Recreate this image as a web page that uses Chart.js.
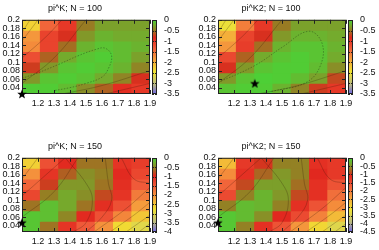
<!DOCTYPE html>
<html>
<head>
<meta charset="utf-8">
<script src="https://cdn.jsdelivr.net/npm/chart.js@4.4.1/dist/chart.umd.min.js"></script>
<style>
  body { margin: 0; background: #fff; width: 379px; height: 250px; position: relative; overflow: hidden; }
  canvas { position: absolute; }
</style>
</head>
<body>
<canvas id="heat1" width="165" height="112" style="left:0px;top:0px"></canvas>
<canvas id="bar1" width="40" height="112" style="left:150px;top:0px"></canvas>
<canvas id="heat2" width="165" height="112" style="left:196px;top:0px"></canvas>
<canvas id="bar2" width="40" height="112" style="left:346px;top:0px"></canvas>
<canvas id="heat3" width="165" height="112" style="left:0px;top:138px"></canvas>
<canvas id="bar3" width="40" height="112" style="left:150px;top:138px"></canvas>
<canvas id="heat4" width="165" height="112" style="left:196px;top:138px"></canvas>
<canvas id="bar4" width="40" height="112" style="left:346px;top:138px"></canvas>
<script>
// cell centres along x (7 columns between 1.1 and 1.9)
const xCenters = [1.15714, 1.27143, 1.38571, 1.5, 1.61429, 1.72857, 1.84286];
// row edges along y, top row first
const rowHigh = [0.2, 0.175, 0.15, 0.125, 0.1, 0.075, 0.05];
const rowLow = [0.175, 0.15, 0.125, 0.1, 0.075, 0.05, 0.025];
const xTicks = [1.2, 1.3, 1.4, 1.5, 1.6, 1.7, 1.8, 1.9];
const yTicks = [0.04, 0.06, 0.08, 0.1, 0.12, 0.14, 0.16, 0.18, 0.2];

// cell values, rows from top to bottom
const piK100 = [
  [-2.3, -1.4, -1.0, -0.5, -0.3, -0.3, -0.3],
  [-1.8, -1.1, -0.8, -0.35, -0.2, -0.25, -0.25],
  [-1.7, -1.1, -0.55, -0.2, -0.1, -0.15, -0.2],
  [-1.2, -0.6, -0.25, -0.1, -0.05, -0.15, -0.3],
  [-0.75, -0.35, -0.1, -0.05, -0.1, -0.2, -0.45],
  [-0.35, -0.1, -0.05, -0.1, -0.25, -0.45, -0.8],
  [-0.05, -0.05, -0.15, -0.4, -0.6, -0.9, -1.0]
];
const piK2_100 = [
  [-2.5, -1.6, -1.0, -0.5, -0.3, -0.3, -0.3],
  [-2.0, -1.1, -0.8, -0.35, -0.2, -0.2, -0.25],
  [-1.8, -1.05, -0.55, -0.2, -0.1, -0.1, -0.2],
  [-1.15, -0.6, -0.25, -0.1, -0.05, -0.1, -0.25],
  [-0.8, -0.35, -0.1, -0.05, -0.05, -0.15, -0.4],
  [-0.35, -0.1, -0.03, -0.05, -0.15, -0.3, -0.7],
  [-0.1, -0.05, -0.05, -0.2, -0.45, -0.75, -1.0]
];
const piK150 = [
  [-2.6, -1.4, -1.0, -0.6, -0.6, -1.1, -1.2],
  [-2.0, -1.1, -0.7, -0.45, -0.55, -1.0, -1.3],
  [-1.6, -0.85, -0.4, -0.4, -0.6, -1.05, -1.5],
  [-1.3, -0.55, -0.3, -0.45, -0.8, -1.1, -1.8],
  [-0.6, -0.15, -0.3, -0.6, -1.05, -1.4, -2.1],
  [-0.1, -0.15, -0.5, -1.0, -1.4, -1.9, -2.5],
  [-0.1, -0.6, -1.1, -1.5, -2.0, -2.7, -3.0]
];
const piK2_150 = [
  [-2.7, -1.3, -1.0, -0.6, -0.6, -1.2, -1.3],
  [-2.2, -1.2, -0.75, -0.45, -0.6, -1.1, -1.3],
  [-1.8, -0.9, -0.4, -0.4, -0.7, -1.2, -1.6],
  [-1.5, -0.6, -0.25, -0.45, -0.9, -1.2, -1.9],
  [-0.6, -0.2, -0.25, -0.6, -1.2, -1.6, -2.2],
  [-0.1, -0.2, -0.5, -1.1, -1.5, -2.1, -2.7],
  [-0.1, -0.6, -1.2, -1.6, -2.3, -3.0, -3.4]
];

// contour lines: [x, y] pairs, dotted ones flagged
const contours100 = [
  { dotted: false, pts: [[1.1, 0.05], [1.3, 0.11], [1.5, 0.2]] },
  { dotted: false, pts: [[1.1, 0.11], [1.25, 0.16], [1.35, 0.2]] },
  { dotted: false, pts: [[1.1, 0.15], [1.2, 0.2]] },
  { dotted: false, pts: [[1.1, 0.17], [1.15, 0.2]] },
  { dotted: false, pts: [[1.35, 0.025], [1.6, 0.045], [1.9, 0.08]] },
  { dotted: false, pts: [[1.62, 0.025], [1.9, 0.05]] }
];
const loop1 = [[1.1, 0.062], [1.2, 0.075], [1.33, 0.095], [1.45, 0.115], [1.56, 0.13], [1.62, 0.133],
  [1.66, 0.115], [1.64, 0.085], [1.6, 0.065], [1.5, 0.05], [1.4, 0.04], [1.3, 0.033]];
const loop2 = [[1.1, 0.052], [1.33, 0.092], [1.5, 0.135], [1.667, 0.173], [1.75, 0.145],
  [1.74, 0.092], [1.65, 0.052], [1.435, 0.031]];
const contours150 = [
  { dotted: false, pts: [[1.1, 0.11], [1.25, 0.16], [1.37, 0.2]] },
  { dotted: false, pts: [[1.1, 0.15], [1.2, 0.2]] },
  { dotted: false, pts: [[1.1, 0.06], [1.3, 0.12], [1.45, 0.2]] },
  { dotted: false, pts: [[1.37, 0.2], [1.5, 0.14], [1.54, 0.1], [1.5, 0.047], [1.42, 0.025]] },
  { dotted: false, pts: [[1.62, 0.2], [1.64, 0.14], [1.66, 0.1], [1.6, 0.06], [1.5, 0.025]] },
  { dotted: false, pts: [[1.55, 0.025], [1.75, 0.08], [1.9, 0.13]] },
  { dotted: false, pts: [[1.65, 0.025], [1.8, 0.065], [1.9, 0.095]] },
  { dotted: false, pts: [[1.75, 0.025], [1.9, 0.065]] },
  { dotted: false, pts: [[1.83, 0.025], [1.9, 0.045]] },
  { dotted: false, pts: [[1.72, 0.2], [1.8, 0.15], [1.9, 0.14]] }
];

const titles = ['pi^K; N = 100', 'pi^K2; N = 100', 'pi^K; N = 150', 'pi^K2; N = 150'];
const cbMins = [-3.5, -3.5, -4, -4.5];
const starX = [1.1, 1.33, 1.1, 1.1];
const starY = [0.025, 0.05, 0.047, 0.047];

// palette stops: t = 0 at bottom of the colour box, 1 at the top
const paletteStops = [
  [0.0, [110, 100, 230]],
  [0.13, [185, 185, 130]],
  [0.3, [240, 228, 50]],
  [0.47, [245, 158, 60]],
  [0.62, [240, 92, 58]],
  [0.76, [225, 38, 30]],
  [0.86, [150, 125, 35]],
  [0.93, [115, 172, 45]],
  [1.0, [72, 212, 55]]
];

function paletteColor(t) {
  t = Math.max(0, Math.min(1, t));
  for (let i = 1; i < paletteStops.length; i++) {
    const [t1, c1] = paletteStops[i];
    const [t0, c0] = paletteStops[i - 1];
    if (t <= t1) {
      const f = (t - t0) / (t1 - t0);
      const c = c0.map((v, k) => Math.round(v + (c1[k] - v) * f));
      return `rgb(${c[0]}, ${c[1]}, ${c[2]})`;
    }
  }
  return 'rgb(72, 212, 55)';
}

// filled black star used as marker
function makeStar() {
  const c = document.createElement('canvas');
  c.width = 10;
  c.height = 10;
  const g = c.getContext('2d');
  g.beginPath();
  for (let i = 0; i < 10; i++) {
    const r = i % 2 === 0 ? 5 : 2.1;
    const a = -Math.PI / 2 + i * Math.PI / 5;
    g.lineTo(5 + r * Math.cos(a), 5.4 + r * Math.sin(a));
  }
  g.closePath();
  g.fillStyle = '#000';
  g.fill();
  return c;
}
const starImg = makeStar();

const font = { family: '"Liberation Sans", Arial, sans-serif', size: 9 };

// Chart.js sizes bars by the tick spacing here, so stretch them to a full cell
const cellRatio = (xCenters[1] - xCenters[0]) / (xTicks[1] - xTicks[0]);

// border and inward tick marks, drawn before the marker
const framePlugin = {
  id: 'frame',
  afterDatasetDraw(chart, args) {
    if (args.index !== 1) return;
    const { ctx, chartArea: a, scales } = chart;
    ctx.save();
    ctx.strokeStyle = '#222';
    ctx.lineWidth = 1;
    ctx.strokeRect(a.left + 0.5, a.top + 0.5, a.right - a.left - 1, a.bottom - a.top - 1);
    ctx.beginPath();
    xTicks.forEach(v => {
      const px = Math.round(scales.x.getPixelForValue(v)) + 0.5;
      ctx.moveTo(px, a.bottom); ctx.lineTo(px, a.bottom - 4);
      ctx.moveTo(px, a.top); ctx.lineTo(px, a.top + 4);
    });
    yTicks.forEach(v => {
      const py = Math.round(scales.y.getPixelForValue(v)) + 0.5;
      ctx.moveTo(a.left, py); ctx.lineTo(a.left + 4, py);
      ctx.moveTo(a.right, py); ctx.lineTo(a.right - 4, py);
    });
    ctx.stroke();
    ctx.restore();
  }
};

function heatChart(id, title, grid, cbMin, sx, sy, lines) {
  const datasets = [{
    type: 'scatter',
    data: [{ x: sx, y: sy }],
    pointStyle: starImg,
    clip: false
  }];
  lines.forEach(l => {
    datasets.push({
      type: 'line',
      data: l.pts.map(p => ({ x: p[0], y: p[1] })),
      borderColor: l.dotted ? 'rgba(30, 40, 20, 0.55)' : 'rgba(40, 20, 10, 0.35)',
      borderWidth: 0.7,
      borderDash: l.dotted ? [1.5, 1.5] : [],
      tension: 0.4,
      pointRadius: 0
    });
  });
  grid.forEach((row, r) => {
    datasets.push({
      type: 'bar',
      data: row.map((v, c) => ({ x: xCenters[c], y: [rowLow[r], rowHigh[r]] })),
      backgroundColor: row.map(v => paletteColor(1 - v / cbMin)),
      borderWidth: 0,
      inflateAmount: 0.4,
      grouped: false,
      barPercentage: cellRatio,
      categoryPercentage: 1
    });
  });

  new Chart(document.getElementById(id), {
    type: 'bar',
    data: { datasets },
    options: {
      responsive: false,
      animation: false,
      layout: { padding: { left: 0, right: 15, top: 0, bottom: 0 } },
      plugins: {
        legend: { display: false },
        tooltip: { enabled: false },
        title: {
          display: true,
          text: title,
          color: '#111',
          font: { ...font, weight: 'normal' },
          padding: { top: 3, bottom: 6 }
        }
      },
      scales: {
        x: {
          type: 'linear',
          min: 1.1,
          max: 1.9,
          offset: false,
          grid: { display: false, drawTicks: false },
          border: { display: false },
          afterBuildTicks: s => { s.ticks = xTicks.map(v => ({ value: v })); },
          afterFit: s => { s.height = 18; },
          ticks: { color: '#111', font, padding: 4, maxRotation: 0, autoSkip: false, callback: v => String(v) }
        },
        y: {
          type: 'linear',
          min: 0.025,
          max: 0.2,
          grid: { display: false, drawTicks: false },
          border: { display: false },
          afterBuildTicks: s => { s.ticks = yTicks.map(v => ({ value: v })); },
          afterFit: s => { s.width = 22; },
          ticks: { color: '#111', font, padding: 2, autoSkip: false, callback: v => String(v) }
        }
      }
    },
    plugins: [framePlugin]
  });
}

function colorBar(id, cbMin) {
  new Chart(document.getElementById(id), {
    type: 'bar',
    data: {
      labels: [''],
      datasets: [{
        data: [[cbMin, 0]],
        backgroundColor: c => {
          const a = c.chart.chartArea;
          if (!a) return null;
          const g = c.chart.ctx.createLinearGradient(0, a.bottom, 0, a.top);
          paletteStops.forEach(([t, col]) => g.addColorStop(t, `rgb(${col[0]}, ${col[1]}, ${col[2]})`));
          return g;
        },
        borderWidth: 0,
        barPercentage: 1,
        categoryPercentage: 1
      }]
    },
    options: {
      responsive: false,
      animation: false,
      layout: { padding: { left: 2, right: 0, top: 20, bottom: 18 } },
      plugins: { legend: { display: false }, tooltip: { enabled: false } },
      scales: {
        x: { display: false },
        y: {
          position: 'right',
          min: cbMin,
          max: 0,
          grid: { display: false, drawTicks: false },
          border: { display: false },
          afterFit: s => { s.width = 33; },
          ticks: { stepSize: 0.5, color: '#111', font, padding: 7, autoSkip: false, callback: v => String(v) }
        }
      }
    },
    plugins: [{
      id: 'cbFrame',
      afterDatasetsDraw(chart) {
        const { ctx, chartArea: a, scales } = chart;
        ctx.save();
        ctx.strokeStyle = '#222';
        ctx.lineWidth = 1;
        ctx.strokeRect(a.left + 0.5, a.top + 0.5, a.right - a.left - 1, a.bottom - a.top - 1);
        ctx.beginPath();
        scales.y.ticks.forEach(t => {
          const py = Math.round(scales.y.getPixelForValue(t.value)) + 0.5;
          ctx.moveTo(a.right, py); ctx.lineTo(a.right - 2, py);
          ctx.moveTo(a.left, py); ctx.lineTo(a.left + 2, py);
        });
        ctx.stroke();
        ctx.restore();
      }
    }]
  });
}

const grids = [piK100, piK2_100, piK150, piK2_150];
const lineSets = [
  contours100.concat([{ dotted: true, pts: loop1 }]),
  contours100.concat([{ dotted: true, pts: loop2 }]),
  contours150,
  contours150
];
grids.forEach((g, i) => {
  heatChart('heat' + (i + 1), titles[i], g, cbMins[i], starX[i], starY[i], lineSets[i]);
  colorBar('bar' + (i + 1), cbMins[i]);
});
</script>
</body>
</html>
